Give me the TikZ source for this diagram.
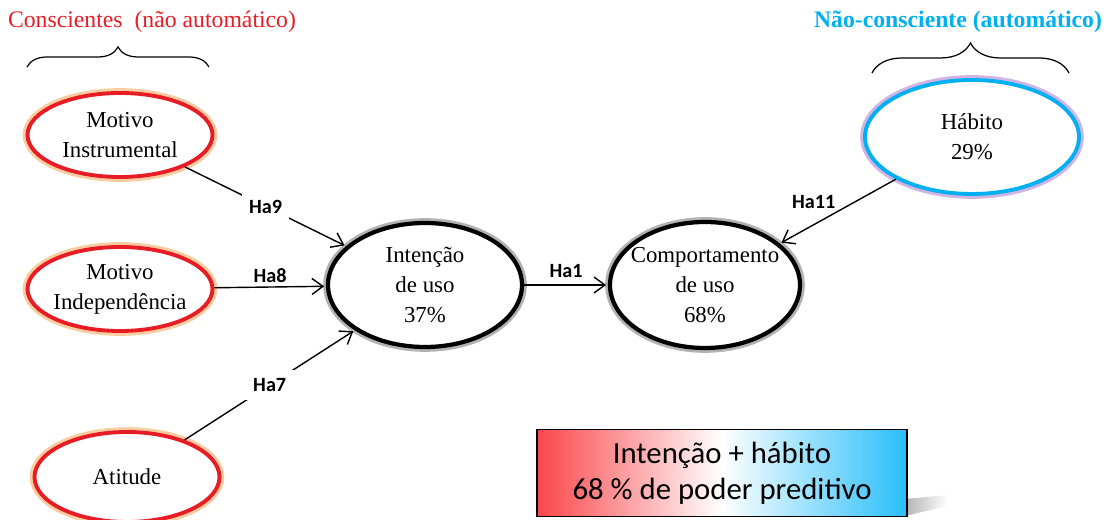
\documentclass[tikz,border=0pt]{standalone}
\usepackage{fontspec}
\setmainfont{Liberation Serif}
\newfontfamily\calibri{Carlito}
\usetikzlibrary{shapes.geometric,arrows.meta,decorations.pathreplacing}

\begin{document}
\begin{tikzpicture}
    % Define custom colors
    \definecolor{consred}{RGB}{232,28,36}
    \definecolor{glowor}{RGB}{250,205,160}
    \definecolor{autocyan}{RGB}{0,176,240}
    \definecolor{glowpu}{RGB}{210,180,228}
    \definecolor{boxred}{RGB}{250,70,75}
    \definecolor{boxcyan}{RGB}{40,190,250}

    \tikzset{
        construct/.style={ellipse, inner xsep=-8pt, inner ysep=0pt, align=center,
            minimum width=3.7cm, minimum height=1.68cm, fill=white,
            font=\fontsize{13}{17}\selectfont},
        consciente/.style={construct, draw=consred, line width=2.2pt,
            preaction={draw=glowor, line width=5.5pt}},
        central/.style={construct, draw=black, line width=2.4pt,
            preaction={draw=black!30, line width=5.5pt}},
        automatico/.style={construct, draw=autocyan, line width=2.2pt,
            preaction={draw=glowpu, line width=5.5pt}},
        hyp/.style={-{Straight Barb[length=2.2mm,width=3.2mm]}, line width=0.8pt, shorten >=1pt},
        hlabel/.style={font=\calibri\bfseries\fontsize{11.5}{13}\selectfont, inner sep=1pt}
    }

    \useasboundingbox (0,0) rectangle (22.16,10.4);

    % Titles and braces
    \node[font=\fontsize{13.5}{16}\selectfont, text=consred] (titcons) at (3.04,9.96) {Conscientes~~(não automático)};
    \node[font=\bfseries\fontsize{13.5}{16}\selectfont, text=autocyan] (titauto) at (19.16,9.96) {Não-consciente (automático)};
    \draw[decorate, decoration={brace, amplitude=0.4cm}, line width=0.7pt] (0.54,9.06) -- (4.18,9.06);
    \draw[decorate, decoration={brace, amplitude=0.6cm}, line width=0.7pt] (17.44,8.94) -- (21.38,8.94);

    % Conscious constructs
    \node[consciente] (motinst) at (2.4,7.7) {Motivo\\Instrumental};
    \node[consciente] (motind) at (2.4,4.62) {Motivo\\Independência};
    \node[consciente, minimum height=1.8cm] (atitude) at (2.54,0.86) {Atitude};

    % Intention and behaviour
    \node[central, minimum width=3.88cm, minimum height=2.48cm] (intencao) at (8.5,4.7) {Intenção\\de uso\\37\%};
    \node[central, minimum width=3.8cm, minimum height=2.52cm] (comport) at (14.1,4.7) {Comportamento\\de uso\\68\%};

    % Habit
    \node[automatico, minimum width=4.28cm, minimum height=2.28cm] (habito) at (19.44,7.66) {Hábito\\29\%};

    % Hypotheses
    \draw[hyp] (motinst) -- node[hlabel, fill=white, inner sep=4pt] {Ha9} (intencao);
    \draw[hyp] (motind) -- node[hlabel, above=1pt] {Ha8} (intencao);
    \draw[hyp] (atitude) -- node[hlabel, fill=white, inner sep=5pt] {Ha7} (intencao);
    \draw[hyp] (intencao) -- node[hlabel, above=3pt] {Ha1} (comport);
    \draw[hyp] (habito) -- node[hlabel, above left=0pt] {Ha11} (comport);

    % Summary box
    \shade[left color=black!30, right color=white] (18.1,0.42) -- (18.95,0.5) -- (18.95,0.28) -- (18.1,0.08) -- cycle;
    \node[draw=black, line width=0.6pt, left color=boxred, right color=boxcyan, middle color=white,
        minimum width=7.4cm, minimum height=1.74cm, align=center,
        font=\calibri\fontsize{17.5}{20.5}\selectfont] (resumo) at (14.44,0.94) {Intenção + hábito\\68 \% de poder preditivo};
\end{tikzpicture}
\end{document}
